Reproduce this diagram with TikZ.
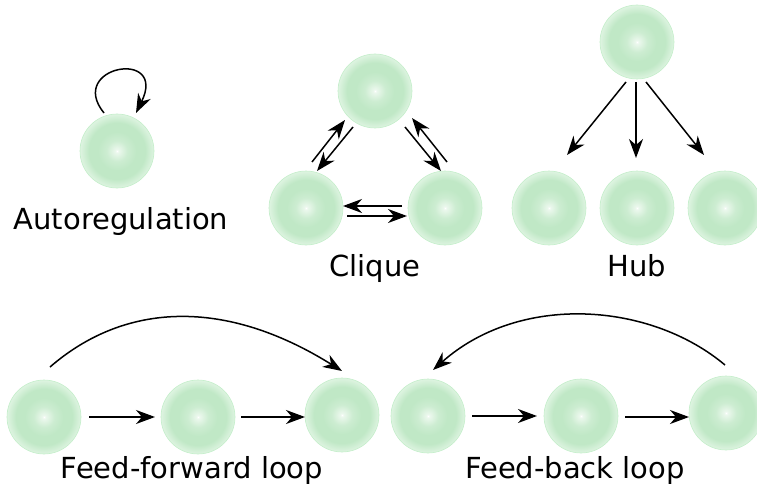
\documentclass[tikz,border=0pt]{standalone}
\usepackage{fontspec}
\setmainfont{DejaVu Sans}
\usetikzlibrary{arrows.meta,calc}
\definecolor{gcol}{RGB}{192,232,198}
\definecolor{gedge}{RGB}{222,244,225}
\definecolor{gline}{RGB}{196,238,202}
\pgfdeclareradialshading{nodeball}{\pgfpoint{0bp}{0bp}}{color(0bp)=(white); color(1bp)=(white!70!gcol); color(7bp)=(gcol!80!white); color(13bp)=(gcol); color(19bp)=(gcol); color(25bp)=(gedge); color(50bp)=(gedge)}
\begin{document}
\begin{tikzpicture}[x=1pt,y=-1pt,
  ball/.style={circle,minimum size=74pt,inner sep=0pt,shading=nodeball,draw=gline,line width=0.6pt},
  arr/.style={line width=1.5pt,-{Stealth[length=19pt,width=14pt,inset=6pt]}},
  lbl/.style={anchor=base,inner sep=0pt,font=\fontsize{29}{34}\selectfont}]
\useasboundingbox (0,0) rectangle (757,484);
% Autoregulation
\node[ball] (A) at (117,151) {};
\node[lbl] (Alab) at (121,229) {Autoregulation};
\draw[arr] ($(A)+(-13,-38)$) .. controls (66,66) and (168,48) .. ($(A)+(19,-38)$);
% Clique
\node[ball] (T) at (375,91) {};
\node[ball] (L) at (306,208) {};
\node[ball] (R) at (445,208) {};
\node[lbl] (Clab) at (375,276) {Clique};
\draw[arr] ($(L)+(6,-46)$) -- ($(T)+(-30,29)$);
\draw[arr] ($(T)+(-22,36)$) -- ($(L)+(11,-37)$);
\draw[arr] ($(T)+(30,36)$) -- ($(R)+(-4,-37)$);
\draw[arr] ($(R)+(2,-46)$) -- ($(T)+(37,27)$);
\draw[arr] ($(R)+(-43,-2)$) -- ($(L)+(37,-2)$);
\draw[arr] ($(L)+(41,8)$) -- ($(R)+(-38,8)$);
% Hub
\node[ball] (H) at (637,42) {};
\node[ball] (H1) at (549,208) {};
\node[ball] (H2) at (637,208) {};
\node[ball] (H3) at (725,208) {};
\node[lbl] (Hlab) at (637,276) {Hub};
\draw[arr] ($(H)+(-11,40)$) -- ($(H1)+(18,-53)$);
\draw[arr] ($(H)+(-1,40)$) -- ($(H2)+(-1,-50)$);
\draw[arr] ($(H)+(9,40)$) -- ($(H3)+(-21,-53)$);
% Feed-forward
\node[ball] (F1) at (44,417) {};
\node[ball] (F2) at (198,417) {};
\node[ball] (F3) at (342,415) {};
\node[lbl] (Flab) at (192,478) {Feed-forward loop};
\draw[arr] ($(F1)+(45,0)$) -- ($(F2)+(-43,0)$);
\draw[arr] ($(F2)+(43,0)$) -- ($(F3)+(-37,2)$);
\draw[arr] ($(F1)+(6,-50)$) .. controls (125,302) and (225,298) .. ($(F3)+(0,-44)$);
% Feed-back
\node[ball] (B1) at (428,416) {};
\node[ball] (B2) at (581,416) {};
\node[ball] (B3) at (726,413) {};
\node[lbl] (Blab) at (575,478) {Feed-back loop};
\draw[arr] ($(B1)+(44,0)$) -- ($(B2)+(-44,0)$);
\draw[arr] ($(B2)+(44,1)$) -- ($(B3)+(-37,4)$);
\draw[arr] ($(B3)+(-1,-48)$) .. controls (650,302) and (520,293) .. ($(B1)+(5,-46)$);
\end{tikzpicture}
\end{document}
